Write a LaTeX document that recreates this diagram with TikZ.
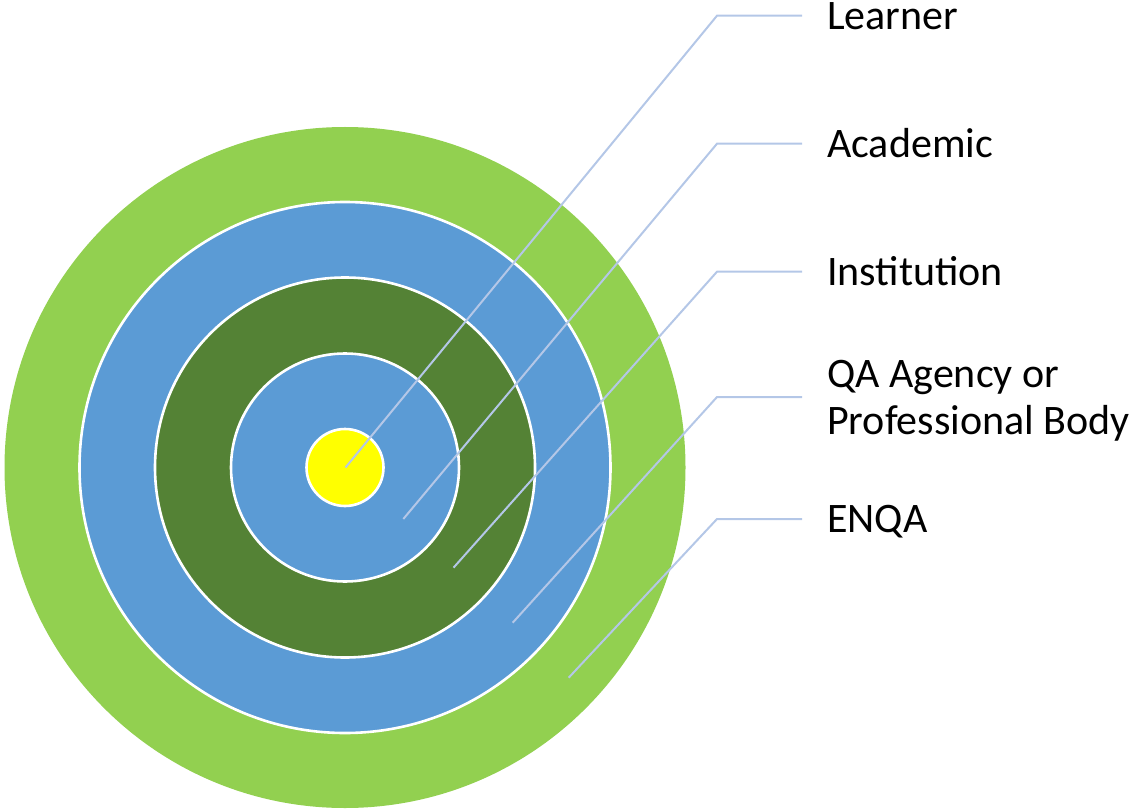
\documentclass[tikz,border=0pt]{standalone}
\usepackage{fontspec}
\setmainfont{Carlito}
\definecolor{outergreen}{HTML}{92D050}
\definecolor{ringblue}{HTML}{5B9BD5}
\definecolor{darkgreen}{HTML}{548235}
\definecolor{centreyellow}{HTML}{FFFF00}
\definecolor{leadercol}{HTML}{B4C7E7}
\begin{document}
\begin{tikzpicture}[x=1pt, y=-1pt,
	ring/.style={draw=white, line width=2.6pt},
	lbl/.style={anchor=west, inner xsep=25pt, inner ysep=0pt, text height=27pt, text depth=0pt, font=\fontsize{42}{47}\selectfont},
	leader/.style={draw=leadercol, line width=2pt}]
	\useasboundingbox (0,0) rectangle (1137,810);
	\coordinate (ctr) at (345,467.5);
	
	% rings, outside in
	\filldraw[ring, draw=none, fill=outergreen] (ctr) circle (340.5pt);
	\filldraw[ring, fill=ringblue] (ctr) circle (265.5pt);
	\filldraw[ring, fill=darkgreen] (ctr) circle (190pt);
	\filldraw[ring, fill=ringblue] (ctr) circle (114pt);
	\filldraw[ring, fill=centreyellow] (ctr) circle (38.5pt);
	
	% labels
	\node[lbl] (learner) at (802, 15.7) {Learner};
	\node[lbl] (academic) at (802, 143.7) {Academic};
	\node[lbl] (institution) at (802, 271.7) {Institution};
	\node[lbl, text height=, align=left] (qa) at (802, 397) {QA Agency or\\Professional Body};
	\node[lbl] (enqa) at (802, 519) {ENQA};
	
	% leader lines
	\coordinate (pLearner) at (345.5, 467.5);
	\coordinate (pAcademic) at (403.3, 519);
	\coordinate (pInstitution) at (453.5, 567.7);
	\coordinate (pQA) at (512.7, 622.7);
	\coordinate (pENQA) at (568.7, 677.7);
	\draw[leader] (pLearner) -- ([xshift=-85pt]learner.west) -- (learner.west);
	\draw[leader] (pAcademic) -- ([xshift=-85pt]academic.west) -- (academic.west);
	\draw[leader] (pInstitution) -- ([xshift=-85pt]institution.west) -- (institution.west);
	\draw[leader] (pQA) -- ([xshift=-85pt]qa.west) -- (qa.west);
	\draw[leader] (pENQA) -- ([xshift=-85pt]enqa.west) -- (enqa.west);
\end{tikzpicture}
\end{document}
